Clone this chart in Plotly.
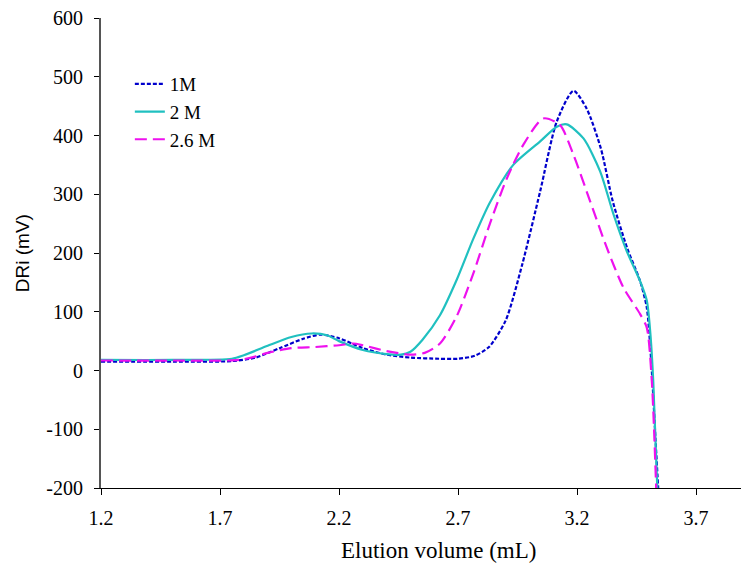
import plotly.graph_objects as go

# 1M
x_1m = [1.2, 1.5, 1.75, 1.85, 1.95, 2.05, 2.12, 2.2, 2.3, 2.4, 2.5, 2.62, 2.7, 2.77, 2.83, 2.9, 2.97, 3.045, 3.115, 3.185, 3.24, 3.3, 3.35, 3.41, 3.465, 3.493, 3.514, 3.53, 3.545]
y_1m = [15, 15, 16, 22, 38, 54, 61, 55, 38, 27, 22, 20, 20, 25, 40, 85, 181, 305, 424, 476, 446, 378, 288, 209, 152, 107, 0, -120, -230]

# 2 M
x_2m = [1.2, 1.5, 1.75, 1.8, 1.9, 2.0, 2.085, 2.15, 2.2, 2.3, 2.4, 2.46, 2.5, 2.55, 2.624, 2.694, 2.764, 2.834, 2.932, 3.045, 3.115, 3.157, 3.227, 3.297, 3.353, 3.409, 3.465, 3.493, 3.507, 3.52, 3.54]
y_2m = [18, 18, 20, 26, 42, 57, 63, 60, 50, 35, 28, 27, 32, 52, 94, 154, 224, 286, 350, 390, 415, 419, 395, 339, 266, 203, 152, 119, 68, -17, -230]

# 2.6 M
x_26m = [1.2, 1.5, 1.78, 1.85, 1.9, 2.0, 2.1, 2.2, 2.26, 2.3, 2.4, 2.5, 2.56, 2.624, 2.694, 2.764, 2.834, 2.904, 2.974, 3.058, 3.128, 3.185, 3.255, 3.325, 3.395, 3.465, 3.493, 3.514, 3.535]
y_26m = [17, 17, 18, 24, 30, 38, 40, 43, 46, 43, 33, 27, 30, 46, 92, 165, 250, 326, 384, 429, 418, 367, 288, 209, 141, 96, 73, -17, -230]

y_ticks = [-200, -100, 0, 100, 200, 300, 400, 500, 600]
y_tick_text = ["-200", "-100", "0", "100", "200", "300", "400", "500", "600"]
x_ticks = [1.2, 1.7, 2.2, 2.7, 3.2, 3.7]
x_tick_text = ["1.2", "1.7", "2.2", "2.7", "3.2", "3.7"]
x_title = "Elution volume (mL)"
y_title = "DRi (mV)"

fig = go.Figure()
fig.add_trace(go.Scatter(x=x_1m, y=y_1m, mode="lines", name="1M",
                         line=dict(color="#0000CC", width=2.2, dash="4px,2px", shape="spline", smoothing=0.7)))
fig.add_trace(go.Scatter(x=x_2m, y=y_2m, mode="lines", name="2 M",
                         line=dict(color="#20C0C0", width=2.2, shape="spline", smoothing=0.7)))
fig.add_trace(go.Scatter(x=x_26m, y=y_26m, mode="lines", name="2.6 M",
                         line=dict(color="#EE11EE", width=2.2, dash="12px,6px", shape="spline", smoothing=0.7)))

serif = "Times New Roman, Liberation Serif, DejaVu Serif, serif"
fig.update_layout(
    width=749, height=574,
    margin=dict(l=93, r=15, t=10, b=94, autoexpand=False),
    plot_bgcolor="white", paper_bgcolor="white",
    showlegend=True,
    legend=dict(x=0.045, y=0.90, xanchor="left", yanchor="top",
                font=dict(family=serif, size=19, color="black"),
                bgcolor="rgba(0,0,0,0)", itemwidth=30, tracegroupgap=0),
    xaxis=dict(range=[1.2, 3.893], tickvals=x_ticks, ticktext=x_tick_text,
               showline=True, linecolor="black", linewidth=1.2,
               ticks="outside", ticklen=6, tickcolor="black",
               showgrid=False, zeroline=False, automargin=False,
               ticklabeloverflow="allow", ticklabelstandoff=6,
               tickfont=dict(family=serif, size=20, color="black")),
    yaxis=dict(range=[-200, 600], tickvals=y_ticks, ticktext=y_tick_text,
               showline=True, linecolor="#555555", linewidth=2,
               ticks="outside", ticklen=5, tickcolor="black",
               showgrid=False, zeroline=False, automargin=False,
               ticklabeloverflow="allow", ticklabelstandoff=7,
               tickfont=dict(family=serif, size=20, color="black")),
    annotations=[
        dict(text=x_title, xref="paper", yref="paper", x=0.526, y=-0.134,
             xanchor="center", yanchor="middle", showarrow=False,
             font=dict(family=serif, size=23, color="black")),
        dict(text=y_title, xref="paper", yref="paper", x=-0.123, y=0.5,
             xanchor="center", yanchor="middle", showarrow=False, textangle=-90,
             font=dict(family="Arial, Liberation Sans, sans-serif", size=19, color="black")),
    ],
)

fig.write_html("out.html")
